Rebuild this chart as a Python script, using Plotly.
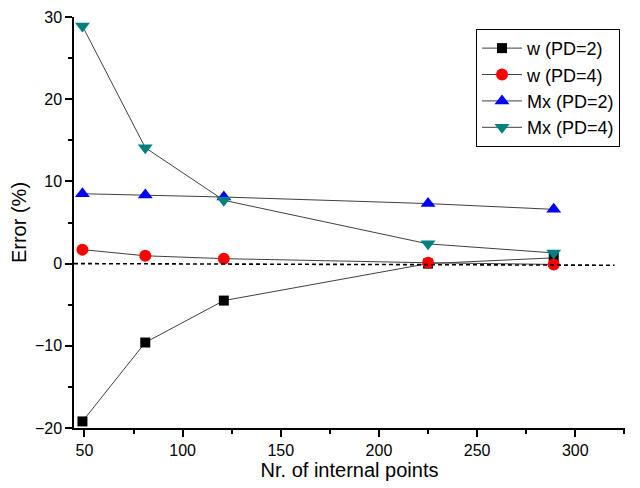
import plotly.graph_objects as go

points = [49, 81, 121, 225, 289]
w_pd2 = [-19.2, -9.6, -4.5, 0.0, 0.7]
w_pd4 = [1.7, 0.95, 0.6, 0.1, -0.1]
mx_pd2 = [8.5, 8.35, 8.1, 7.3, 6.6]
mx_pd4 = [28.9, 14.1, 7.7, 2.4, 1.3]
ref_x = [44.7, 320]
ref_y = [0.0, -0.2]

series = [
    ("w (PD=2)", w_pd2, "square", "#000000", 10),
    ("w (PD=4)", w_pd4, "circle", "#ff0000", 12),
    ("Mx (PD=2)", mx_pd2, "triangle-up", "#0000ff", 13),
    ("Mx (PD=4)", mx_pd4, "triangle-down", "#008080", 13),
]

fig = go.Figure()
for name, vals, sym, col, sz in series:
    fig.add_trace(go.Scatter(
        x=points, y=vals, name=name, mode="lines+markers",
        line=dict(color="#404040", width=1),
        marker=dict(symbol=sym, color=col, size=sz, line=dict(width=0)),
    ))

fig.add_trace(go.Scatter(
    x=ref_x, y=ref_y, mode="lines", showlegend=False,
    line=dict(color="#000000", width=1.6, dash="4px,3px"),
))

font_family = "Liberation Sans, Arial, sans-serif"
fig.update_layout(
    width=640, height=488,
    margin=dict(l=66, r=23, t=9, b=68, autoexpand=False),
    plot_bgcolor="white", paper_bgcolor="white",
    font=dict(family=font_family, size=16, color="#000000"),
    legend=dict(
        x=0.7296, y=0.971, xanchor="left", yanchor="top",
        bgcolor="white", bordercolor="#000000", borderwidth=1,
        font=dict(size=18), tracegroupgap=0, itemwidth=40,
    ),
    xaxis=dict(
        range=[44.7, 325.3], tick0=50, dtick=50, automargin=False,
        showgrid=False, zeroline=False,
        showline=True, linecolor="#000000", linewidth=1.5,
        ticks="outside", ticklen=7, tickwidth=1.5, tickcolor="#000000",
        minor=dict(dtick=25, tick0=25, ticks="outside", ticklen=4, tickwidth=1.5, tickcolor="#000000"),
        title=dict(text="Nr. of internal points", font=dict(size=20), standoff=1),
        tickfont=dict(size=16),
    ),
    yaxis=dict(
        range=[-20, 30], tick0=0, dtick=10, automargin=False,
        showgrid=False, zeroline=False,
        showline=True, linecolor="#000000", linewidth=1.5,
        ticks="outside", ticklen=7, tickwidth=1.5, tickcolor="#000000",
        minor=dict(dtick=5, ticks="outside", ticklen=4, tickwidth=1.5, tickcolor="#000000"),
        title=dict(text="Error (%)", font=dict(size=20), standoff=10),
        tickfont=dict(size=16),
    ),
)

fig.write_html("out.html")
